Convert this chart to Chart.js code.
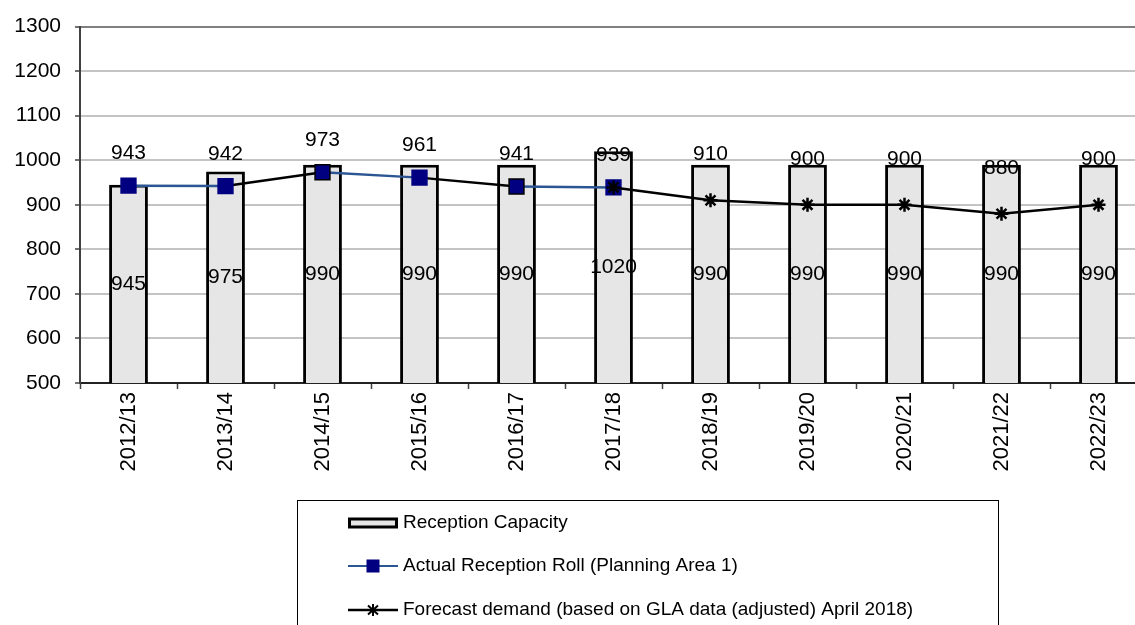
<!DOCTYPE html>
<html>
<head>
<meta charset="utf-8">
<script src="https://cdn.jsdelivr.net/npm/chart.js@4.4.1/dist/chart.umd.min.js"></script>
<style>
html,body{margin:0;padding:0;overflow:hidden;background:#fff;width:1135px;height:625px;}
#wrap{position:absolute;left:0;top:0;width:1160px;height:625px;}
</style>
</head>
<body>
<div id="wrap"><canvas id="c" width="1160" height="625"></canvas></div>
<script>
// ---- data ----
const categories = ['2012/13','2013/14','2014/15','2015/16','2016/17','2017/18','2018/19','2019/20','2020/21','2021/22','2022/23'];
const capacity = [945, 975, 990, 990, 990, 1020, 990, 990, 990, 990, 990];
const actualRoll = [943, 942, 973, 961, 941, 939, null, null, null, null, null];
const forecast = [null, null, null, null, null, 939, 910, 900, 900, 880, 900];
const yTicks = [500, 600, 700, 800, 900, 1000, 1100, 1200, 1300];

const labelCapacity = 'Reception Capacity';
const labelActual = 'Actual Reception Roll (Planning Area 1)';
const labelForecast = 'Forecast demand (based on GLA data (adjusted) April 2018)';

const FONT = '"Liberation Sans", Arial, sans-serif';
const BLUE_LINE = '#2b5593';
const NAVY = '#000080';

const valueLabels = {
  id: 'valueLabels',
  afterDatasetsDraw(chart) {
    const ctx = chart.ctx;
    const ys = chart.scales.y;
    ctx.save();
    ctx.fillStyle = '#000';
    ctx.font = '21px ' + FONT;
    ctx.textAlign = 'center';
    ctx.textBaseline = 'middle';
    // bar labels (centered in bar)
    const barMeta = chart.getDatasetMeta(0);
    barMeta.data.forEach((bar, i) => {
      const top = ys.getPixelForValue(capacity[i]);
      const bottom = ys.getPixelForValue(ys.min);
      ctx.fillText(String(capacity[i]), bar.x, (top + bottom) / 2);
    });
    // actual labels
    const aMeta = chart.getDatasetMeta(1);
    aMeta.data.forEach((pt, i) => {
      if (actualRoll[i] == null) return;
      ctx.fillText(String(actualRoll[i]), pt.x, pt.y - 32);
    });
    // forecast labels (where no actual)
    const fMeta = chart.getDatasetMeta(2);
    fMeta.data.forEach((pt, i) => {
      if (forecast[i] == null || actualRoll[i] != null) return;
      ctx.fillText(String(forecast[i]), pt.x, pt.y - 46);
    });
    ctx.restore();
  }
};

const boxLegend = {
  id: 'boxLegend',
  afterDraw(chart) {
    const ctx = chart.ctx;
    ctx.save();
    ctx.strokeStyle = '#000';
    ctx.lineWidth = 1;
    ctx.strokeRect(297.5, 500.5, 701, 140);
    ctx.font = '19px ' + FONT;
    ctx.textAlign = 'left';
    ctx.textBaseline = 'middle';
    const x0 = 348, x1 = 398, tx = 403;
    // item 1: bar
    let y = 523;
    ctx.fillStyle = '#e6e6e6';
    ctx.fillRect(x0, y - 5, x1 - x0, 10);
    ctx.strokeStyle = '#000';
    ctx.lineWidth = 3;
    ctx.strokeRect(x0 + 1.5, y - 4, x1 - x0 - 3, 8);
    ctx.fillStyle = '#000';
    ctx.fillText(labelCapacity, tx, y);
    // item 2: blue line + navy square
    y = 566;
    ctx.strokeStyle = BLUE_LINE;
    ctx.lineWidth = 2;
    ctx.beginPath(); ctx.moveTo(x0, y); ctx.lineTo(x1, y); ctx.stroke();
    ctx.fillStyle = NAVY;
    ctx.fillRect(373 - 6.5, y - 6.5, 13, 13);
    ctx.fillStyle = '#000';
    ctx.fillText(labelActual, tx, y);
    // item 3: black line + star
    y = 610;
    ctx.strokeStyle = '#000';
    ctx.lineWidth = 2.5;
    ctx.beginPath(); ctx.moveTo(x0, y); ctx.lineTo(x1, y); ctx.stroke();
    ctx.lineWidth = 2;
    ctx.beginPath();
    ctx.moveTo(373, y - 6); ctx.lineTo(373, y + 6);
    ctx.moveTo(368, y - 4.5); ctx.lineTo(378, y + 4.5);
    ctx.moveTo(378, y - 4.5); ctx.lineTo(368, y + 4.5);
    ctx.stroke();
    ctx.fillText(labelForecast, tx, y);
    ctx.restore();
  }
};

new Chart(document.getElementById('c'), {
  type: 'bar',
  data: {
    labels: categories,
    datasets: [
      {
        type: 'bar',
        label: labelCapacity,
        data: capacity,
        backgroundColor: '#e6e6e6',
        borderColor: '#000',
        borderWidth: 3,
        borderSkipped: false,
        barPercentage: 0.4,
        categoryPercentage: 1.0,
        order: 3
      },
      {
        type: 'line',
        label: labelActual,
        data: actualRoll,
        borderColor: BLUE_LINE,
        borderWidth: 2.5,
        segment: {
          borderColor: c => (c.p0DataIndex % 2 === 1 ? '#000' : BLUE_LINE)
        },
        pointStyle: 'rect',
        pointRadius: 10.5,
        pointBackgroundColor: NAVY,
        pointBorderColor: [NAVY, NAVY, '#000', NAVY, '#000', NAVY],
        pointBorderWidth: 1.5,
        tension: 0,
        spanGaps: false,
        order: 2
      },
      {
        type: 'line',
        label: labelForecast,
        data: forecast,
        borderColor: '#000',
        borderWidth: 2.5,
        pointStyle: 'star',
        pointRadius: 7,
        pointBorderColor: '#000',
        pointBorderWidth: 2.5,
        pointBackgroundColor: '#000',
        tension: 0,
        order: 1
      }
    ]
  },
  options: {
    responsive: false,
    animation: false,
    devicePixelRatio: 1,
    layout: { padding: { top: 23, right: 13, left: 0, bottom: 0 } },
    plugins: { legend: { display: false }, tooltip: { enabled: false } },
    scales: {
      x: {
        offset: true,
        grid: {
          offset: true,
          drawOnChartArea: false,
          drawTicks: true,
          tickLength: 6,
          tickColor: '#404040',
          tickWidth: 1.5
        },
        border: { color: '#222', width: 2 },
        ticks: {
          color: '#000',
          font: { family: FONT, size: 22 },
          maxRotation: 90,
          minRotation: 90,
          padding: 3,
          autoSkip: false
        },
        afterFit(scale) { scale.height = 242; }
      },
      y: {
        min: 500,
        max: 1300,
        afterBuildTicks(scale) { scale.ticks = yTicks.map(v => ({ value: v })); },
        grid: {
          color: c => (c.tick && c.tick.value === 1300 ? '#808080' : '#c4c4c4'),
          lineWidth: 2,
          drawTicks: true,
          tickLength: 5,
          tickColor: '#404040',
          tickWidth: 1.5
        },
        border: { color: '#404040', width: 2 },
        ticks: {
          color: '#000',
          font: { family: FONT, size: 21 },
          padding: 14,
          callback: v => String(v)
        },
        afterFit(scale) { scale.width = 80; }
      }
    }
  },
  plugins: [valueLabels, boxLegend]
});
</script>
</body>
</html>
